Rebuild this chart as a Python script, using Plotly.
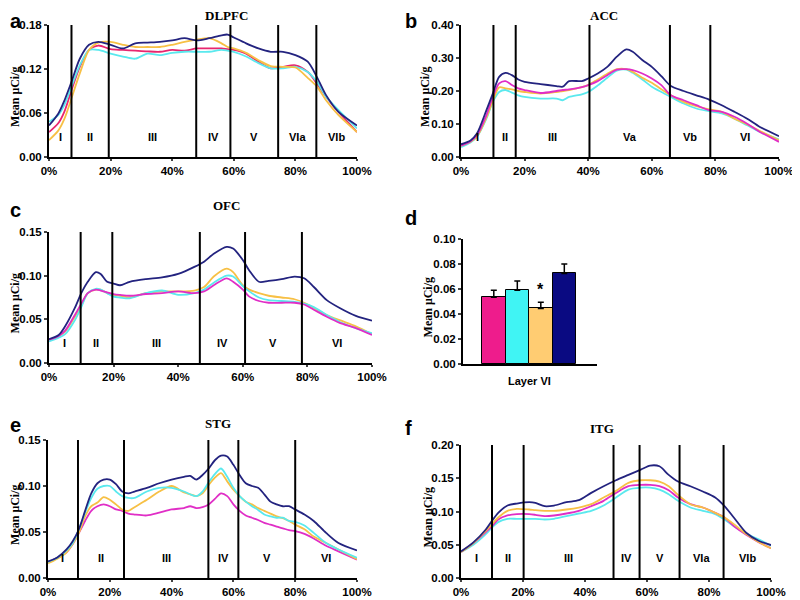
import plotly.graph_objects as go

# ---- data ----
PCT_TICKS = [0, 20, 40, 60, 80, 100]
PCT_LABELS = ['0%', '20%', '40%', '60%', '80%', '100%']
Y_TITLE = 'Mean μCi/g'

# a: DLPFC
A_X = [0, 3, 5, 7.3, 10, 13, 16, 20, 24, 28, 32, 36, 40, 44, 48, 52, 56, 58, 60, 64, 68, 72, 76, 80, 84, 87, 90, 94, 100]
A_NAVY = [0.043, 0.059, 0.077, 0.1025, 0.134, 0.153, 0.157, 0.153, 0.148, 0.155, 0.156, 0.157, 0.159, 0.162, 0.159, 0.162, 0.166, 0.167, 0.163, 0.155, 0.148, 0.1435, 0.1435, 0.139, 0.13, 0.109, 0.084, 0.0615, 0.043]
A_ORANGE = [0.023, 0.036, 0.052, 0.080, 0.114, 0.146, 0.156, 0.157, 0.153, 0.150, 0.150, 0.150, 0.153, 0.157, 0.160, 0.162, 0.155, 0.150, 0.148, 0.142, 0.132, 0.124, 0.123, 0.122, 0.108, 0.096, 0.077, 0.057, 0.034]
A_PINK = [0.034, 0.046, 0.062, 0.091, 0.123, 0.146, 0.152, 0.147, 0.146, 0.145, 0.144, 0.1435, 0.146, 0.145, 0.148, 0.148, 0.148, 0.147, 0.146, 0.141, 0.130, 0.121, 0.123, 0.125, 0.116, 0.100, 0.082, 0.0615, 0.034]
A_CYAN = [0.048, 0.057, 0.071, 0.096, 0.125, 0.146, 0.146, 0.141, 0.137, 0.134, 0.141, 0.139, 0.142, 0.1435, 0.1435, 0.1435, 0.146, 0.145, 0.1435, 0.137, 0.128, 0.121, 0.121, 0.123, 0.116, 0.1025, 0.082, 0.064, 0.039]
A_BOUNDS = [7.3, 19.4, 47.8, 58.9, 74.4, 86.8]
A_LAYERS = ['I', 'II', 'III', 'IV', 'V', 'VIa', 'VIb']

# b: ACC
B_X = [0, 3, 5, 8, 10, 12, 14, 16, 18, 20, 25, 30, 32, 34, 38, 40, 43, 46, 49, 52, 54, 57, 60, 63, 66, 70, 74, 78, 82, 86, 90, 94, 100]
B_NAVY = [0.0385, 0.05, 0.071, 0.142, 0.192, 0.243, 0.255, 0.248, 0.235, 0.228, 0.221, 0.215, 0.213, 0.230, 0.230, 0.238, 0.253, 0.273, 0.304, 0.326, 0.319, 0.294, 0.273, 0.245, 0.215, 0.200, 0.187, 0.174, 0.157, 0.137, 0.116, 0.091, 0.063]
B_PINK = [0.034, 0.048, 0.066, 0.127, 0.182, 0.223, 0.230, 0.218, 0.208, 0.203, 0.194, 0.200, 0.203, 0.205, 0.212, 0.218, 0.230, 0.248, 0.265, 0.266, 0.263, 0.253, 0.238, 0.218, 0.187, 0.172, 0.157, 0.142, 0.137, 0.122, 0.101, 0.076, 0.046]
B_ORANGE = [0.034, 0.046, 0.062, 0.120, 0.170, 0.211, 0.208, 0.205, 0.200, 0.197, 0.192, 0.197, 0.200, 0.203, 0.212, 0.218, 0.235, 0.252, 0.266, 0.266, 0.258, 0.240, 0.225, 0.205, 0.187, 0.167, 0.154, 0.144, 0.137, 0.116, 0.099, 0.079, 0.051]
B_CYAN = [0.030, 0.044, 0.061, 0.116, 0.167, 0.197, 0.203, 0.195, 0.187, 0.182, 0.177, 0.177, 0.172, 0.182, 0.190, 0.197, 0.217, 0.240, 0.262, 0.265, 0.255, 0.235, 0.213, 0.197, 0.182, 0.162, 0.147, 0.139, 0.132, 0.116, 0.096, 0.076, 0.053]
B_BOUNDS = [10.2, 17.2, 40.4, 65.7, 78.4]
B_LAYERS = ['I', 'II', 'III', 'Va', 'Vb', 'VI']

# c: OFC
C_X = [0, 3, 5, 8, 10, 12, 14.5, 16, 18, 20, 22, 25, 30, 35, 40, 45, 48, 51, 55, 57, 60, 62, 65, 68, 72, 76, 79, 82, 86, 90, 95, 100]
C_NAVY = [0.0273, 0.032, 0.042, 0.063, 0.080, 0.093, 0.104, 0.102, 0.093, 0.091, 0.089, 0.093, 0.096, 0.098, 0.102, 0.110, 0.116, 0.125, 0.133, 0.131, 0.118, 0.106, 0.093, 0.094, 0.096, 0.099, 0.097, 0.087, 0.072, 0.063, 0.054, 0.0486]
C_ORANGE = [0.0266, 0.031, 0.036, 0.053, 0.066, 0.080, 0.084, 0.084, 0.080, 0.078, 0.077, 0.075, 0.080, 0.082, 0.082, 0.083, 0.087, 0.099, 0.108, 0.104, 0.089, 0.084, 0.080, 0.077, 0.075, 0.073, 0.069, 0.063, 0.055, 0.049, 0.042, 0.033]
C_PINK = [0.0266, 0.031, 0.037, 0.055, 0.068, 0.080, 0.084, 0.083, 0.081, 0.079, 0.078, 0.077, 0.079, 0.080, 0.082, 0.080, 0.082, 0.089, 0.097, 0.093, 0.084, 0.076, 0.071, 0.069, 0.069, 0.069, 0.067, 0.061, 0.053, 0.046, 0.040, 0.032]
C_CYAN = [0.0247, 0.029, 0.033, 0.049, 0.064, 0.080, 0.085, 0.084, 0.080, 0.076, 0.075, 0.074, 0.080, 0.083, 0.078, 0.080, 0.084, 0.092, 0.100, 0.099, 0.088, 0.082, 0.075, 0.072, 0.071, 0.070, 0.068, 0.064, 0.055, 0.047, 0.040, 0.034]
C_BOUNDS = [9.8, 19.6, 46.7, 60.7, 78.3]
C_LAYERS = ['I', 'II', 'III', 'IV', 'V', 'VI']

# d: layer VI bars
D_GROUPS = ['pink', 'cyan', 'orange', 'navy']
D_MEANS = [0.0535, 0.059, 0.0445, 0.0725]
D_ERRS = [0.0055, 0.0075, 0.005, 0.0075]
D_LABEL = 'Layer VI'

# e: STG
E_X = [0, 3, 6, 8, 10, 12, 14, 16, 18, 20, 22, 24, 26, 28, 32, 36, 40, 44, 46, 48, 50, 52, 54, 56, 58, 60, 62, 64, 66, 68, 70, 72, 74, 76, 78, 80, 83, 86, 90, 94, 100]
E_NAVY = [0.018, 0.0223, 0.031, 0.040, 0.053, 0.073, 0.092, 0.103, 0.107, 0.107, 0.102, 0.094, 0.092, 0.094, 0.098, 0.103, 0.107, 0.110, 0.111, 0.107, 0.112, 0.119, 0.128, 0.133, 0.132, 0.123, 0.112, 0.103, 0.100, 0.098, 0.091, 0.083, 0.080, 0.078, 0.078, 0.0745, 0.069, 0.062, 0.049, 0.038, 0.030]
E_CYAN = [0.0176, 0.022, 0.030, 0.038, 0.053, 0.071, 0.087, 0.097, 0.100, 0.100, 0.094, 0.089, 0.087, 0.087, 0.094, 0.098, 0.098, 0.094, 0.091, 0.089, 0.094, 0.104, 0.113, 0.119, 0.110, 0.098, 0.089, 0.083, 0.078, 0.074, 0.069, 0.067, 0.0655, 0.0655, 0.062, 0.061, 0.057, 0.049, 0.038, 0.031, 0.022]
E_ORANGE = [0.016, 0.021, 0.028, 0.037, 0.049, 0.067, 0.078, 0.082, 0.088, 0.085, 0.080, 0.0745, 0.073, 0.077, 0.085, 0.094, 0.100, 0.093, 0.091, 0.089, 0.092, 0.101, 0.109, 0.114, 0.105, 0.096, 0.089, 0.083, 0.080, 0.076, 0.073, 0.070, 0.067, 0.065, 0.062, 0.058, 0.053, 0.045, 0.038, 0.031, 0.0205]
E_PINK = [0.0176, 0.022, 0.028, 0.037, 0.049, 0.062, 0.073, 0.078, 0.080, 0.078, 0.0745, 0.073, 0.070, 0.069, 0.068, 0.071, 0.0745, 0.076, 0.078, 0.076, 0.077, 0.080, 0.086, 0.092, 0.089, 0.080, 0.073, 0.068, 0.0655, 0.063, 0.060, 0.058, 0.0558, 0.054, 0.052, 0.051, 0.048, 0.043, 0.035, 0.029, 0.020]
E_BOUNDS = [9.7, 24.6, 51.9, 61.6, 80.0]
E_LAYERS = ['I', 'II', 'III', 'IV', 'V', 'VI']

# f: ITG
F_X = [0, 4, 8, 10, 12, 15, 18, 22, 24, 27, 30, 34, 38, 42, 46, 50, 54, 58, 61, 64, 67, 70, 74, 78, 82, 85, 88, 92, 96, 100]
F_NAVY = [0.040, 0.0536, 0.073, 0.086, 0.098, 0.109, 0.112, 0.114, 0.113, 0.108, 0.109, 0.114, 0.117, 0.128, 0.138, 0.147, 0.155, 0.163, 0.169, 0.168, 0.155, 0.145, 0.138, 0.130, 0.121, 0.108, 0.091, 0.068, 0.056, 0.0496]
F_ORANGE = [0.039, 0.0526, 0.071, 0.081, 0.091, 0.101, 0.104, 0.103, 0.102, 0.101, 0.101, 0.103, 0.106, 0.111, 0.121, 0.131, 0.143, 0.147, 0.147, 0.145, 0.138, 0.125, 0.111, 0.106, 0.098, 0.091, 0.081, 0.066, 0.054, 0.0447]
F_PINK = [0.039, 0.0526, 0.069, 0.078, 0.088, 0.094, 0.096, 0.096, 0.095, 0.093, 0.094, 0.097, 0.101, 0.108, 0.116, 0.128, 0.138, 0.140, 0.140, 0.138, 0.132, 0.121, 0.111, 0.106, 0.098, 0.091, 0.078, 0.065, 0.054, 0.0447]
F_CYAN = [0.039, 0.050, 0.066, 0.076, 0.084, 0.089, 0.089, 0.089, 0.089, 0.088, 0.089, 0.093, 0.097, 0.101, 0.109, 0.121, 0.133, 0.136, 0.136, 0.133, 0.126, 0.116, 0.106, 0.101, 0.096, 0.088, 0.078, 0.067, 0.058, 0.0486]
F_BOUNDS = [10.0, 20.2, 49.2, 57.6, 70.5, 84.7]
F_LAYERS = ['I', 'II', 'III', 'IV', 'V', 'VIa', 'VIb']

# ---- styling ----
NAVY = '#23237f'
CYAN = '#5ae9ee'
ORANGE = '#f7c045'
PINK_A = '#e8266f'
MAGENTA = '#e02ec6'
BAR_COLORS = ['#ee1c8c', '#40f4f4', '#ffcc72', '#0a0a82']

SANS = 'Liberation Sans, Arial'
SERIF = 'Liberation Serif, Times New Roman'
# page body keeps its default 8px margin, so the figure is drawn 8px in
OFF = 8
W, H = 800 - OFF, 600 - OFF


def sx(px):
    return (px - OFF) / W


def sy(py):
    return 1 - (py - OFF) / H


def px_x(a, b):
    return [sx(a), sx(b)]


def px_y(top, bottom):
    return [sy(bottom), sy(top)]


def axis_keys(n):
    if n == 1:
        return 'x', 'y', 'xaxis', 'yaxis'
    return f'x{n}', f'y{n}', f'xaxis{n}', f'yaxis{n}'


def y_axis(n, dom, ymax, dtick):
    xa, ya, _, _ = axis_keys(n)
    return dict(
        domain=dom, anchor=xa, range=[0, ymax], dtick=dtick, tickformat='.2f',
        showline=True, linecolor='black', linewidth=2, ticks='outside', ticklen=3,
        tickwidth=1.5, showgrid=False, zeroline=False, automargin=False,
        tickfont=dict(family=SANS, size=11.5, color='black', weight='bold'),
    )


def x_axis(n, dom, pct=True):
    xa, ya, _, _ = axis_keys(n)
    d = dict(
        domain=dom, anchor=ya, showline=True, linecolor='black', linewidth=2,
        showgrid=False, zeroline=False, automargin=False,
        tickfont=dict(family=SANS, size=11.5, color='black', weight='bold'),
    )
    if pct:
        d.update(range=[0, 100], tickmode='array', tickvals=PCT_TICKS,
                 ticktext=PCT_LABELS, ticks='outside', ticklen=2, tickwidth=1.5)
    return d


def add_texts(fig, xdom, ydom, title, title_px, letter, letter_px, ytitle_px):
    if title:
        fig.add_annotation(text=title, xref='paper', yref='paper', x=sum(xdom) / 2,
                           y=sy(title_px), showarrow=False, yanchor='middle',
                           font=dict(family=SERIF, size=13, color='black', weight='bold'))
    fig.add_annotation(text=letter, xref='paper', yref='paper', x=sx(letter_px[0]),
                       y=sy(letter_px[1]), showarrow=False, xanchor='left',
                       yanchor='middle',
                       font=dict(family=SANS, size=20, color='black', weight='bold'))
    fig.add_annotation(text=Y_TITLE, xref='paper', yref='paper', x=sx(ytitle_px),
                       y=sum(ydom) / 2 - 0.01, textangle=-90, showarrow=False,
                       xanchor='center', yanchor='middle',
                       font=dict(family=SERIF, size=12, color='black', weight='bold'))


def add_profile(fig, n, xpx, ypx, x, series, ymax, dtick, bounds, layers,
                title, letter, title_px, letter_px, ytitle_px):
    xa, ya, xk, yk = axis_keys(n)
    xdom, ydom = px_x(*xpx), px_y(*ypx)
    for y, color in series:
        fig.add_trace(go.Scatter(x=x, y=y, mode='lines', xaxis=xa, yaxis=ya,
                                 line=dict(color=color, width=1.8, shape='spline',
                                           smoothing=0.8),
                                 showlegend=False, hoverinfo='skip'))
    for b in bounds:
        fig.add_shape(type='line', xref=xa, yref=f'{ya} domain', x0=b, x1=b,
                      y0=0, y1=1, line=dict(color='black', width=2))
    edges = [0] + bounds + [100]
    for lab, lo, hi in zip(layers, edges[:-1], edges[1:]):
        fig.add_annotation(text=lab, xref=xa, yref=f'{ya} domain', x=(lo + hi) / 2,
                           y=0.09, showarrow=False,
                           font=dict(family=SANS, size=11, color='black', weight='bold'))
    fig.layout[xk] = x_axis(n, xdom)
    fig.layout[yk] = y_axis(n, ydom, ymax, dtick)
    add_texts(fig, xdom, ydom, title, title_px, letter, letter_px, ytitle_px)


fig = go.Figure()

add_profile(fig, 1, (49, 357), (25, 157), A_X,
            [(A_PINK, PINK_A), (A_CYAN, CYAN), (A_ORANGE, ORANGE), (A_NAVY, NAVY)],
            0.18, 0.06, A_BOUNDS, A_LAYERS, 'DLPFC', 'a', 16, (8, 21), 15)
add_profile(fig, 2, (461, 779), (25, 157), B_X,
            [(B_CYAN, CYAN), (B_ORANGE, ORANGE), (B_PINK, MAGENTA), (B_NAVY, NAVY)],
            0.40, 0.10, B_BOUNDS, B_LAYERS, 'ACC', 'b', 16, (403, 21), 425)
add_profile(fig, 3, (49, 372), (232, 363), C_X,
            [(C_ORANGE, ORANGE), (C_CYAN, CYAN), (C_PINK, MAGENTA), (C_NAVY, NAVY)],
            0.15, 0.05, C_BOUNDS, C_LAYERS, 'OFC', 'c', 205, (8, 210), 15)
add_profile(fig, 5, (48, 357), (440, 578), E_X,
            [(E_PINK, MAGENTA), (E_ORANGE, ORANGE), (E_CYAN, CYAN), (E_NAVY, NAVY)],
            0.15, 0.05, E_BOUNDS, E_LAYERS, 'STG', 'e', 423, (8, 425), 15)
add_profile(fig, 6, (461, 771), (445, 578), F_X,
            [(F_CYAN, CYAN), (F_PINK, MAGENTA), (F_ORANGE, ORANGE), (F_NAVY, NAVY)],
            0.20, 0.05, F_BOUNDS, F_LAYERS, 'ITG', 'f', 428, (403, 428), 428)

# d: bar panel
d_x = list(range(len(D_GROUPS)))
fig.add_trace(go.Bar(
    x=d_x, y=D_MEANS, xaxis='x4', yaxis='y4', width=1,
    marker=dict(color=BAR_COLORS, line=dict(color='black', width=1)),
    error_y=dict(type='data', array=D_ERRS, arrayminus=[0] * len(D_ERRS),
                 symmetric=False, color='black', thickness=1.5, width=3),
    showlegend=False, hoverinfo='skip'))
d_xdom, d_ydom = px_x(463, 597), px_y(239, 364)
fig.layout['xaxis4'] = dict(x_axis(4, d_xdom, pct=False), range=[-1.31, 4.39],
                            showticklabels=False, ticks='')
fig.layout['yaxis4'] = y_axis(4, d_ydom, 0.10, 0.02)
fig.add_annotation(text='*', xref='x4', yref='y4', x=2,
                   y=D_MEANS[2] + D_ERRS[2] + 0.002, yanchor='bottom', showarrow=False,
                   font=dict(family=SANS, size=16, color='black', weight='bold'))
fig.add_annotation(text=D_LABEL, xref='x4', yref='paper', x=1.5, y=sy(381),
                   showarrow=False,
                   font=dict(family=SANS, size=11, color='black', weight='bold'))
add_texts(fig, d_xdom, d_ydom, None, 0, 'd', (403, 218), 428)

fig.update_layout(
    width=W, height=H,
    margin=dict(l=0, r=0, t=0, b=0),
    plot_bgcolor='white', paper_bgcolor='white',
    bargap=0,
)

fig.write_html("out.html")
